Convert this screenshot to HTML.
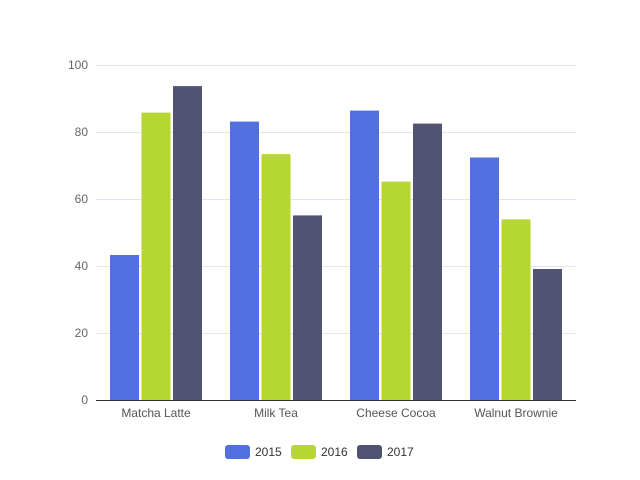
<!DOCTYPE html>
<html><head><meta charset="utf-8"><style>
html,body{margin:0;padding:0;background:#fff;}
svg{display:block;font-family:"Liberation Sans",sans-serif;font-size:12px;}
</style></head><body>
<svg width="640" height="480" xmlns="http://www.w3.org/2000/svg">
<g stroke="#e0e6f1" stroke-width="1">
<line x1="96" x2="576" y1="65.5" y2="65.5"/>
<line x1="96" x2="576" y1="132.5" y2="132.5"/>
<line x1="96" x2="576" y1="199.5" y2="199.5"/>
<line x1="96" x2="576" y1="266.5" y2="266.5"/>
<line x1="96" x2="576" y1="333.5" y2="333.5"/>
</g>
<line x1="96" x2="576" y1="400.5" y2="400.5" stroke="#333"/>
<g fill="#666" text-anchor="end">
<text x="88" y="69">100</text><text x="88" y="136">80</text><text x="88" y="203">60</text><text x="88" y="270">40</text><text x="88" y="337">20</text><text x="88" y="404">0</text>
</g>
<g fill="#555" text-anchor="middle">
<text x="156" y="417">Matcha Latte</text><text x="276" y="417">Milk Tea</text><text x="396" y="417">Cheese Cocoa</text><text x="516" y="417">Walnut Brownie</text>
</g>
<g fill="#516fde">
<rect x="110" y="255" width="29" height="145"/>
<rect x="230" y="121.6" width="29" height="278.4"/>
<rect x="350" y="110.6" width="29" height="289.4"/>
<rect x="470" y="157.5" width="29" height="242.5"/>
</g>
<g fill="#b6d634">
<rect x="141.5" y="112.6" width="29" height="287.4"/>
<rect x="261.5" y="154.1" width="29" height="245.9"/>
<rect x="381.5" y="181.6" width="29" height="218.4"/>
<rect x="501.5" y="219.4" width="29" height="180.6"/>
</g>
<g fill="#505372">
<rect x="173" y="86.1" width="29" height="313.9"/>
<rect x="293" y="215.4" width="29" height="184.6"/>
<rect x="413" y="123.6" width="29" height="276.4"/>
<rect x="533" y="269" width="29" height="131"/>
</g>
<rect x="225" y="445" width="25" height="14" rx="3" fill="#516fde"/>
<text x="255" y="456" fill="#333">2015</text>
<rect x="291" y="445" width="25" height="14" rx="3" fill="#b6d634"/>
<text x="321" y="456" fill="#333">2016</text>
<rect x="357" y="445" width="25" height="14" rx="3" fill="#505372"/>
<text x="387" y="456" fill="#333">2017</text>
</svg>
</body></html>
